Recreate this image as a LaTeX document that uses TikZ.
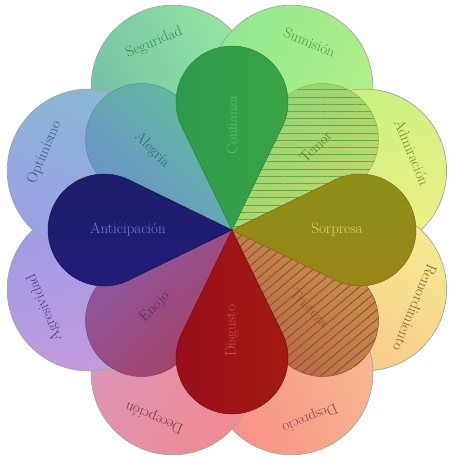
\documentclass[tikz,border=0pt]{standalone}
\usepackage{xcolor}
\usepackage{tikz}
\usetikzlibrary{patterns.meta}
% outer ring, two tones each (counter-clockwise side, clockwise side)
\definecolor{emosegA}{HTML}{72C0A8}
\definecolor{emosegB}{HTML}{94E8A0}
\definecolor{emosumA}{HTML}{90E890}
\definecolor{emosumB}{HTML}{B4F088}
\definecolor{emoadmA}{HTML}{C8F080}
\definecolor{emoadmB}{HTML}{EEF088}
\definecolor{emoremA}{HTML}{F6EC90}
\definecolor{emoremB}{HTML}{F8C88C}
\definecolor{emodesA}{HTML}{F8B890}
\definecolor{emodesB}{HTML}{F89088}
\definecolor{emodecA}{HTML}{F28A90}
\definecolor{emodecB}{HTML}{DC94B8}
\definecolor{emoagrA}{HTML}{C49ADC}
\definecolor{emoagrB}{HTML}{A09CE8}
\definecolor{emooptA}{HTML}{9CA0E6}
\definecolor{emooptB}{HTML}{88B8D4}
\definecolor{emoringedge}{HTML}{9AAA96}
% inner petals
\definecolor{emoconA}{HTML}{2C9A4E}
\definecolor{emoconB}{HTML}{3AA646}
\definecolor{emoaleA}{HTML}{6E8ED0}
\definecolor{emoaleB}{HTML}{5EC09A}
\definecolor{emotemA}{HTML}{8ED474}
\definecolor{emotemB}{HTML}{C4D86C}
\definecolor{emosorA}{HTML}{8C9018}
\definecolor{emosorB}{HTML}{9A8418}
\definecolor{emotriA}{HTML}{CC944C}
\definecolor{emotriB}{HTML}{B86448}
\definecolor{emodisA}{HTML}{A41A12}
\definecolor{emodisB}{HTML}{980E1C}
\definecolor{emoenoA}{HTML}{A84060}
\definecolor{emoenoB}{HTML}{8A5AA8}
\definecolor{emoantA}{HTML}{221C78}
\definecolor{emoantB}{HTML}{1C1E6A}
\definecolor{emotemhatch}{HTML}{68A848}
\definecolor{emotrihatch}{HTML}{8A5428}
% label inks
\definecolor{emosegtxt}{HTML}{3A8660}
\definecolor{emosumtxt}{HTML}{4A9A4C}
\definecolor{emoadmtxt}{HTML}{788A36}
\definecolor{emoremtxt}{HTML}{766636}
\definecolor{emodestxt}{HTML}{864646}
\definecolor{emodectxt}{HTML}{76364A}
\definecolor{emoagrtxt}{HTML}{4A3C7A}
\definecolor{emoopttxt}{HTML}{3A5A8A}
\definecolor{emocontxt}{HTML}{62C070}
\definecolor{emoaletxt}{HTML}{2E6E78}
\definecolor{emotemtxt}{HTML}{4E8A30}
\definecolor{emosortxt}{HTML}{D8D878}
\definecolor{emotritxt}{HTML}{8A5A2A}
\definecolor{emodistxt}{HTML}{D05050}
\definecolor{emoenotxt}{HTML}{5A2A5A}
\definecolor{emoanttxt}{HTML}{7E78C0}
\tikzset{
  ring/.style n args  = {3}{top color=#1, bottom color=#2, shading angle=#3,
                            draw=emoringedge, line width=0.7pt},
  petal/.style n args = {3}{top color=#1, bottom color=#2, shading angle=#3,
                            draw=#2!80!black, line width=0.5pt},
  hatch/.style 2 args = {postaction={pattern={Lines[angle=#1, distance=7.2pt,
                            line width=0.9pt]}, pattern color=#2}},
  lbl/.style          = {font=\fontsize{15}{17}\selectfont, inner sep=0pt},
}
% teardrop from the centre, round end 128 out, radius 56
\newcommand{\emopetal}[2]{\path[#2] (0,0) -- (#1-25.94:115.1)
  arc[start angle=#1-115.94, end angle=#1+115.94, radius=56] -- cycle;}

\begin{document}
\begin{tikzpicture}[x=1pt, y=1pt]
\useasboundingbox (-232,-227) rectangle (217,230);

% outer ring
\path[ring={emosegA}{emosegB}{112.5}]  (112.5:155) circle[radius=81.6];
\path[ring={emosumA}{emosumB}{67.5}]   (67.5:155) circle[radius=81.6];
\path[ring={emoadmA}{emoadmB}{22.5}]   (133,59.3) circle[radius=81.6];
\path[ring={emoremA}{emoremB}{-22.5}]  (133,-59.3) circle[radius=81.6];
\path[ring={emodesA}{emodesB}{-67.5}]  (-67.5:155) circle[radius=81.6];
\path[ring={emodecA}{emodecB}{-112.5}] (-112.5:155) circle[radius=81.6];
\path[ring={emoagrA}{emoagrB}{-157.5}] (-157.5:155) circle[radius=81.6];
\path[ring={emooptA}{emooptB}{157.5}]  (157.5:155) circle[radius=81.6];

% inner petals, diagonals under the four main ones
\emopetal{135}{petal={emoaleA}{emoaleB}{135}}
\emopetal{45}{petal={emotemA}{emotemB}{45}, hatch={0}{emotemhatch}}
\emopetal{-45}{petal={emotriA}{emotriB}{-45}, hatch={40}{emotrihatch}}
\emopetal{-135}{petal={emoenoA}{emoenoB}{-135}}
\emopetal{90}{petal={emoconA}{emoconB}{90}}
\emopetal{0}{petal={emosorA}{emosorB}{0}}
\emopetal{-90}{petal={emodisA}{emodisB}{-90}}
\emopetal{180}{petal={emoantA}{emoantB}{180}}

\node[lbl, text=emosegtxt, rotate=22.5]   (seg) at (112.5:203) {Seguridad};
\node[lbl, text=emosumtxt, rotate=-22.5]  (sum) at (67.5:203) {Sumisión};
\node[lbl, text=emoadmtxt, rotate=-67.5]  (adm) at (180,77.7) {Admiración};
\node[lbl, text=emoremtxt, rotate=-112.5] (rem) at (183,-77.7) {Remordimiento};
\node[lbl, text=emodestxt, rotate=-157.5] (des) at (-67.5:203) {Desprecio};
\node[lbl, text=emodectxt, rotate=157.5]  (dec) at (-112.5:203) {Decepción};
\node[lbl, text=emoagrtxt, rotate=112.5]  (agr) at (-157.5:203) {Agresividad};
\node[lbl, text=emoopttxt, rotate=67.5]   (opt) at (157.5:203) {Optimismo};

\node[lbl, text=emocontxt, rotate=90]  (con) at (90:105) {Confianza};
\node[lbl, text=emosortxt]             (sor) at (0:105) {Sorpresa};
\node[lbl, text=emodistxt, rotate=90]  (dis) at (-90:101) {Disgusto};
\node[lbl, text=emoanttxt]             (ant) at (180:104) {Anticipación};
\node[lbl, text=emoaletxt, rotate=-45] (ale) at (135:113) {Alegría};
\node[lbl, text=emotemtxt, rotate=45]  (tem) at (45:118) {Temor};
\node[lbl, text=emotritxt, rotate=-45] (tri) at (-45:110) {Tristeza};
\node[lbl, text=emoenotxt, rotate=45]  (eno) at (-135:109) {Enojo};
\end{tikzpicture}
\end{document}
